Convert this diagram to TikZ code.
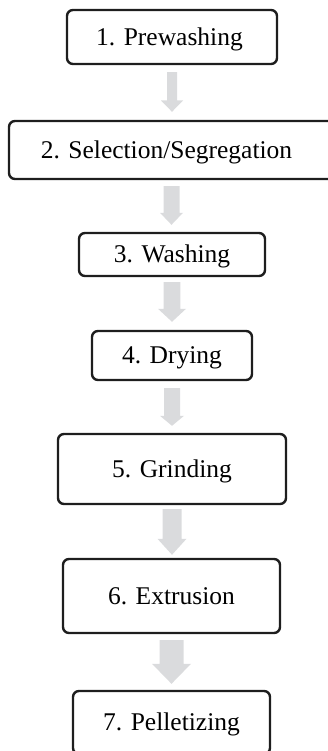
\documentclass[tikz,border=0pt]{standalone}
\usepackage{fontspec}
\setmainfont{Liberation Serif}
\usetikzlibrary{calc}
\definecolor{arrowgray}{RGB}{218,219,221}
\definecolor{boxline}{RGB}{30,30,30}
\tikzset{
  stepbox/.style={draw=boxline, line width=2.4pt, rounded corners=6pt, inner sep=0pt,
    font=\fontsize{25.5}{28}\selectfont, text height=17pt, text depth=0.5pt},
  flowarr/.style={fill=arrowgray, draw=none}
}
% from, to, start gap, end gap, shaft half width, head half width, head length
\newcommand\flowarrow[7]{%
  \fill[flowarr] let \p1=($(#1.south)+(0,#3)$), \p2=($(#2.north)+(0,-#4)$) in
    (\x1-#5pt,\y1) -- (\x1+#5pt,\y1) -- (\x1+#5pt,\y2+#7pt) -- (\x1+#6pt,\y2+#7pt)
    -- (\x1,\y2) -- (\x1-#6pt,\y2+#7pt) -- (\x1-#5pt,\y2+#7pt) -- cycle;}
\begin{document}
\begin{tikzpicture}[x=1pt,y=-1pt]
\useasboundingbox (0,0) rectangle (328,751);
\clip (0,0) rectangle (328,751);
\node[stepbox, minimum width=210pt, minimum height=54pt] (b1) at (172,37) {1. Prewashing\hspace*{5pt}};
\node[stepbox, minimum width=325pt, minimum height=58pt] (b2) at (171.5,150) {2. Selection/Segregation\hspace*{10pt}};
\node[stepbox, minimum width=186pt, minimum height=43pt] (b3) at (172,254.5) {3. Washing};
\node[stepbox, minimum width=160pt, minimum height=49pt] (b4) at (172,355.5) {4. Drying};
\node[stepbox, minimum width=228pt, minimum height=70pt] (b5) at (172,469) {5. Grinding};
\node[stepbox, minimum width=217pt, minimum height=74pt] (b6) at (171.5,596) {6. Extrusion};
\node[stepbox, minimum width=197pt, minimum height=63pt] (b7) at (171.5,722.5) {7. Pelletizing};
\flowarrow{b1}{b2}{7}{8}{5}{11}{11.3}
\flowarrow{b2}{b3}{6}{7}{8}{11.5}{12}
\flowarrow{b3}{b4}{5}{8}{8.3}{14}{13}
\flowarrow{b4}{b5}{7}{7}{8}{12}{10}
\flowarrow{b5}{b6}{4}{3}{9.5}{14.5}{16}
\flowarrow{b6}{b7}{6}{6}{12}{19.5}{20}
\end{tikzpicture}
\end{document}
